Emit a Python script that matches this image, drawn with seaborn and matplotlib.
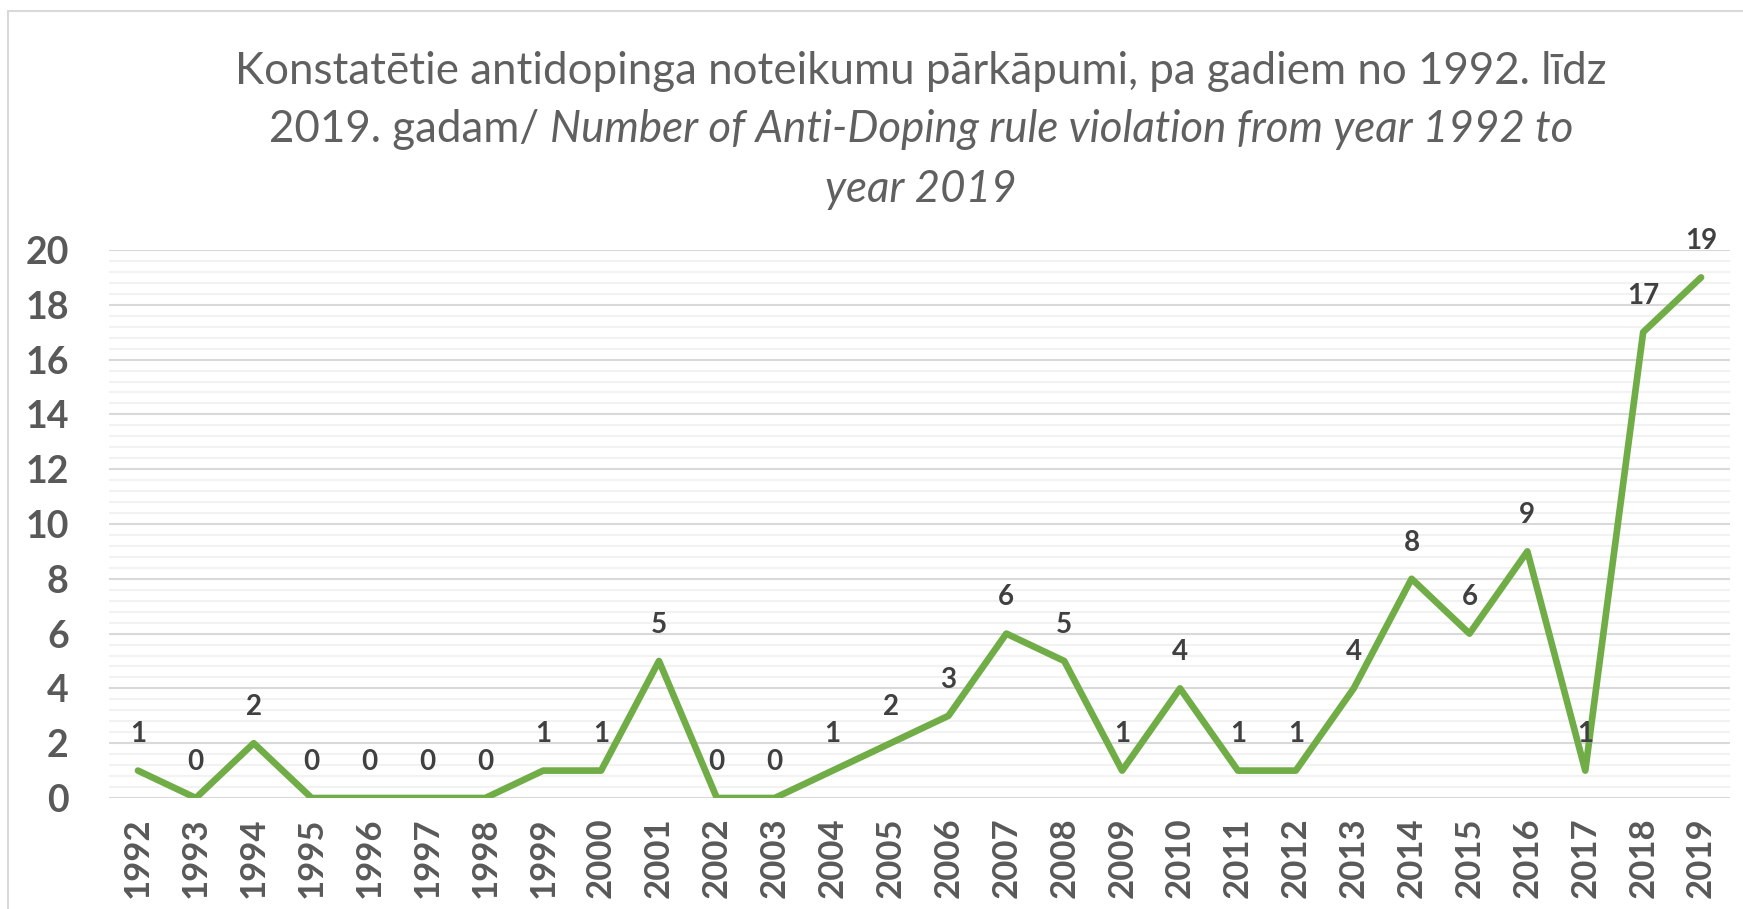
import numpy as np
import pandas as pd
import matplotlib.pyplot as plt
import seaborn as sns
from matplotlib.patches import Rectangle
from matplotlib.ticker import MultipleLocator

# dati
years = [str(y) for y in range(1992, 2020)]
counts = [1, 0, 2, 0, 0, 0, 0, 1, 1, 5, 0, 0, 1, 2, 3, 6, 5, 1, 4, 1, 1, 4, 8, 6, 9, 1, 17, 19]
title_l1 = "Konstatētie antidopinga noteikumu pārkāpumi, pa gadiem no 1992. līdz"
title_l2a = "2019. gadam/ "
title_l2b = "Number of Anti-Doping rule violation from year 1992 to"
title_l3 = "year 2019"

df = pd.DataFrame({"year": years, "count": counts})

sns.set_style("white")
plt.rcParams['font.family'] = ['Lato', 'DejaVu Sans']

fig = plt.figure(figsize=(17.43, 9.09), dpi=100)
ax = fig.add_axes([109/1743, 1 - 798/909, (1730-109)/1743, (798-250)/909])

sns.lineplot(data=df, x="year", y="count", sort=False, color="#70AD47", linewidth=4.8, ax=ax)
ax.lines[0].set_solid_capstyle("round")

for i, v in enumerate(counts):
    ax.annotate(str(v), (i, v), xytext=(0, 26), textcoords="offset points",
                ha="center", va="center", fontsize=20, fontweight="bold", color="#404040")

ax.set_xlim(-0.5, len(years) - 0.5)
ax.set_ylim(0, 20)
ax.yaxis.set_major_locator(MultipleLocator(2))
ax.yaxis.set_minor_locator(MultipleLocator(0.4))
ax.grid(which="major", axis="y", color="#D9D9D9", linewidth=1.5)
ax.grid(which="minor", axis="y", color="#F2F2F2", linewidth=1.5)
ax.set_axisbelow(True)
for s in ax.spines.values():
    s.set_visible(False)
ax.tick_params(axis="both", length=0)
ax.tick_params(axis="y", pad=29, labelsize=27, labelcolor="#595959")
ax.tick_params(axis="x", pad=14, labelsize=25, labelcolor="#595959", rotation=90)
for t in ax.get_yticklabels() + ax.get_xticklabels():
    t.set_fontweight("bold")
ax.set_xlabel("")
ax.set_ylabel("")

# ramis
fig.patches.append(Rectangle((8/1743, -0.1), 1.2, 1 - 11/909 + 0.1, transform=fig.transFigure,
                             fill=False, edgecolor="#D9D9D9", linewidth=1.5))

# virsraksts
xc = 921 / 1743
tkw = dict(fontsize=31.6, color="#606060", fontweight="normal", va="center")
fig.text(xc, 1 - 72/909, title_l1, ha="center", **tkw)
ta = fig.text(0, 1 - 130/909, title_l2a, ha="left", **tkw)
tb = fig.text(0, 1 - 130/909, title_l2b, ha="left", style="italic", **tkw)
fig.text(xc, 1 - 189/909, title_l3, ha="center", style="italic", **tkw)
r = fig.canvas.get_renderer()
wa = ta.get_window_extent(r).width / fig.bbox.width
wb = tb.get_window_extent(r).width / fig.bbox.width
x0 = xc - (wa + wb) / 2
ta.set_x(x0)
tb.set_x(x0 + wa)

fig.savefig("out.png", dpi=100)
